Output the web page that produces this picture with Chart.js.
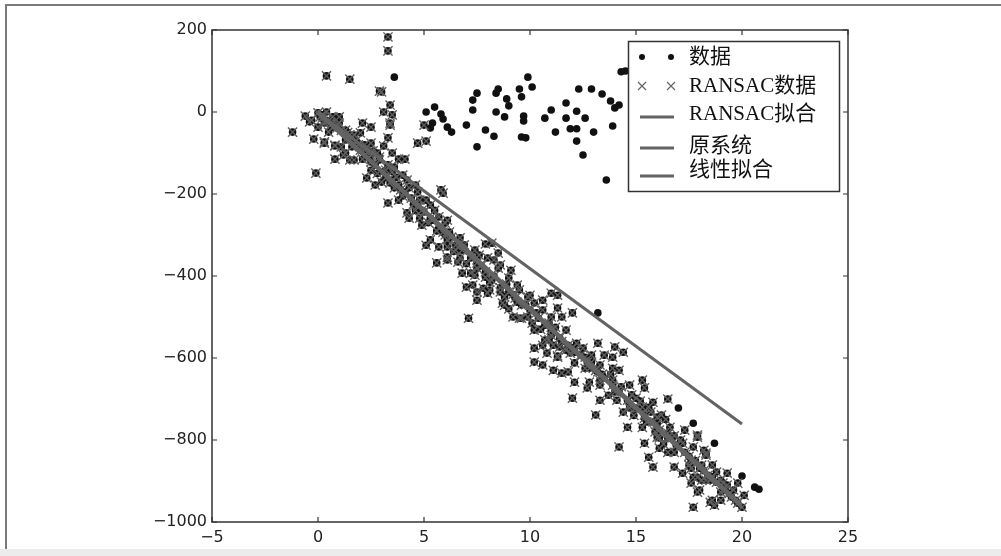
<!DOCTYPE html>
<html><head><meta charset="utf-8">
<script src="https://cdn.jsdelivr.net/npm/chart.js@4"></script>
<style>html,body{margin:0;padding:0;background:#fff;overflow:hidden}#wrap{width:1001px;height:556px;position:relative}</style>
</head><body><div id="wrap"><canvas id="c" width="1001" height="556"></canvas></div>
<script>
// ---- data ----
const inlierX = [
 0.4,-0.6,-0.4,0,-1.2,-0.2,0.3,-0.1,0,0.8,1.2,0.8,0.1,0.4,0.7,1.0,0.2,0.4,0.6,-0.3,0.5,0.9,
 1.5,2.9,3.3,3.3,3.0,3.4,3.1,3.5,3.4,
 0.3,0.7,1.0,2.1,2.5,2.0,1.7,3.4,5.0,4.7,5.1,3.3,3.1,2.5,0.3,0.8,1.1,1.3,1.5,1.7,2.1,2.5,2.8,3.5,3.8,4.1,3.3,2.5,2.3,3.0,3.4,3.7,2.7,4.2,3.9,4.3,3.3,3.8,4.7,4.8,5.1,5.3,5.8,5.9,4.2,4.3,4.8,4.9,5.3,5.7,6.0,6.1,5.3,5.1,5.7,6.1,6.1,5.6,
 0.5,1.3,1.6,1.9,2.2,2.9,2.5,3.2,3.5,
 1.3,1.6,2.0,2.4,2.7,3.1,3.5,3.8,4.1,4.4,4.7,5.0,5.4,5.7,5.9,1.5,2.2,2.9,3.6,4.0,4.6,
 0.2,0.6,0.9,1.1,1.4,1.8,2.3,2.6,2.8,3.2,3.6,4.0,4.5,4.9,5.2,5.6,6.0,4.6,5.5,
 6.3,6.1,6.5,6.1,6.6,7.9,8.2,8.5,7.6,8.3,7.5,6.8,7.2,8.5,9.1,7.9,8.1,9.4,7.0,7.3,7.5,8.0,8.6,8.8,7.5,8.7,9.4,9.9,10.2,10.6,11.0,11.3,10.6,11.3,9.2,9.6,9.9,10.1,11.0,11.5,12.0,11.2,11.7,7.1,10.7,10.6,11.1,11.4,10.2,10.8,11.3,11.9,10.2,10.6,11.1,11.5,11.8,
 6.2,6.7,6.9,7.4,8.0,8.6,9.0,9.5,10.0,
 6.5,6.8,7.2,7.5,7.9,8.2,8.6,9.0,9.3,9.6,10.0,10.4,10.7,11.0,11.4,11.8,12.1,6.7,7.4,8.1,8.8,9.5,10.2,10.9,11.7,
 6.4,7.0,7.7,8.3,8.9,9.2,9.8,10.3,10.5,11.0,11.5,12.0,7.8,9.0,10.9,11.3,
 12.2,13.2,14.0,14.4,13.9,13.5,12.6,12.9,12.1,13.3,13.9,14.2,13.2,12.1,12.8,13.3,12.7,13.9,14.7,15.3,15.4,13.7,14.1,13.3,12.0,15.0,15.8,16.5,15.3,15.7,14.4,14.7,13.1,16.0,16.2,15.3,14.6,15.5,16.6,17.3,16.0,16.5,16.7,17.9,15.4,16.1,16.5,14.2,17.2,17.7,15.6,15.8,16.8,17.2,17.6,17.9,17.6,17.9,
 12.1,12.5,12.8,
 12.4,12.7,13.1,13.5,13.9,14.2,14.6,15.0,15.4,15.8,16.1,16.5,16.9,17.3,17.6,18.0,18.4,18.8,19.2,19.5,19.8,12.6,13.3,14.0,14.7,15.4,16.1,16.8,17.5,18.3,19.0,19.7,
 12.9,13.4,13.8,14.3,14.8,15.2,15.6,16.0,16.4,16.8,17.1,17.5,17.8,18.2,18.6,19.1,19.4,14.9,15.9,16.3,
 17.9,18.2,18.3,17.7,18.1,18.6,18.8,19.3,17.7,18.1,18.5,19.0,19.3,19.8,19.6,20.1,18.0,18.6,19.0,20.0,17.7,18.3,18.5,18.7
];
const inlierY = [
 88,-10,-24,-37,-49,-66,-73,-149,-2,-115,-105,-83,-12,0,-12,-12,-7,-20,-32,-20,-49,-39,
 80,51,183,149,49,17,0,-7,-27,
 -27,-37,-27,-27,-37,-51,-56,-32,-32,-76,-71,-63,-83,-76,-76,-81,-85,-100,-117,-117,-115,-105,-100,-100,-115,-115,-129,-142,-161,-171,-173,-159,-178,-166,-190,-185,-222,-215,-195,-215,-215,-227,-190,-198,-246,-259,-259,-276,-259,-256,-271,-264,-312,-325,-329,-312,-354,-368,
 -22,-44,-63,-80,-93,-117,-122,-142,-146,
 -68,-85,-93,-112,-129,-146,-166,-178,-195,-210,-229,-244,-264,-283,-293,-56,-80,-110,-134,-154,-178,
 -15,-25,-30,-45,-50,-70,-85,-95,-150,-160,-185,-205,-225,-240,-270,-290,-300,-240,-240,
 -305,-329,-337,-361,-366,-322,-320,-344,-349,-361,-368,-393,-393,-381,-386,-403,-415,-422,-427,-422,-439,-442,-439,-451,-459,-466,-464,-451,-466,-459,-442,-447,-483,-478,-500,-503,-500,-515,-500,-500,-490,-525,-532,-503,-556,-569,-569,-573,-576,-588,-598,-588,-610,-617,-630,-637,-634,
 -293,-307,-324,-337,-356,-373,-405,-434,-447,
 -325,-337,-356,-381,-390,-410,-429,-439,-454,-471,-483,-503,-520,-532,-551,-569,-586,-356,-398,-434,-471,-503,-532,-556,-581,
 -340,-370,-375,-400,-420,-445,-470,-490,-530,-545,-560,-575,-430,-480,-515,-595,
 -564,-564,-573,-586,-598,-593,-598,-593,-612,-617,-625,-630,-634,-659,-659,-666,-673,-654,-666,-654,-673,-691,-703,-703,-698,-698,-708,-700,-720,-732,-732,-722,-739,-744,-739,-769,-769,-756,-769,-776,-793,-783,-795,-793,-808,-820,-830,-817,-808,-817,-842,-866,-866,-881,-869,-891,-905,-927,
 -581,-576,-625,
 -593,-610,-630,-649,-666,-683,-703,-722,-739,-756,-776,-795,-813,-830,-849,-869,-886,-903,-922,-939,-954,-625,-654,-683,-715,-747,-795,-830,-861,-898,-927,-947,
 -610,-640,-640,-670,-690,-705,-720,-760,-750,-790,-800,-840,-850,-875,-890,-905,-930,-740,-780,-810,
 -788,-825,-837,-854,-861,-861,-878,-881,-891,-898,-898,-898,-910,-905,-922,-935,-922,-947,-947,-964,-964,-832,-952,-959
];
const outlierX = [3.6,5.1,5.5,5.8,5.9,5.4,5.3,6.1,6.3,7.0,7.5,7.3,7.3,7.5,7.9,8.3,8.4,8.5,8.4,8.8,8.9,9.0,9.5,9.6,9.9,10.1,9.7,9.7,9.6,9.8,10.7,11.0,11.2,11.7,11.7,11.9,12.2,12.2,12.3,12.2,12.5,12.6,12.9,13.0,13.4,13.8,14.0,13.9,14.2,13.6,14.3,14.5,13.2,17.0,17.7,18.7,20.0,20.6,20.8];
const outlierY = [85,0,12,-5,-17,-27,-39,-37,-49,-32,-85,29,5,46,-44,-59,46,56,0,-12,32,15,56,37,85,61,-10,-22,-61,-63,-15,5,-49,22,-15,-41,-41,2,56,-71,-105,-15,56,-49,44,27,10,-34,17,-166,98,100,-490,-722,-759,-808,-888,-915,-920];
const fitX = [0, 20];
const ransacFitY = [2, -958];
const originalY = [-3, -965];
const linearFitY = [-3, -761];
const xTicks = [-5, 0, 5, 10, 15, 20, 25];
const yTicks = [-1000, -800, -600, -400, -200, 0, 200];
const seriesLabels = ['数据', 'RANSAC数据', 'RANSAC拟合', '原系统', '线性拟合'];

// ---- build ----
const pts = (xs, ys) => xs.map((x, i) => ({x: x, y: ys[i]}));
const allX = outlierX.concat(inlierX), allY = outlierY.concat(inlierY);
const LINE_C = '#636363';
const fmt = v => v < 0 ? '\u2212' + Math.abs(v) : String(v);

const pageFrame = {
  id: 'pageFrame',
  beforeDraw(chart) {
    const c = chart.ctx;
    c.save();
    c.fillStyle = '#fff'; c.fillRect(0, 0, 1001, 556);
    c.fillStyle = '#ececec'; c.fillRect(0, 549, 1001, 7);
    c.strokeStyle = '#7a7a7a'; c.lineWidth = 2;
    c.beginPath(); c.moveTo(6, 549); c.lineTo(6, 5); c.lineTo(1001, 5); c.stroke();
    c.restore();
  }
};

const axesFrame = {
  id: 'axesFrame',
  afterDatasetsDraw(chart) {
    const c = chart.ctx, a = chart.chartArea, sx = chart.scales.x, sy = chart.scales.y;
    c.save();
    c.strokeStyle = '#333'; c.lineWidth = 1.5;
    c.strokeRect(a.left, a.top, a.right - a.left, a.bottom - a.top);
    c.lineWidth = 1.2; c.beginPath();
    xTicks.forEach(v => { const p = sx.getPixelForValue(v);
      c.moveTo(p, a.bottom); c.lineTo(p, a.bottom - 5);
      c.moveTo(p, a.top); c.lineTo(p, a.top + 5); });
    yTicks.forEach(v => { const p = sy.getPixelForValue(v);
      c.moveTo(a.left, p); c.lineTo(a.left + 5, p);
      c.moveTo(a.right, p); c.lineTo(a.right - 5, p); });
    c.stroke();
    c.restore();
  }
};

const legendBox = {
  id: 'legendBox',
  afterDraw(chart) {
    const c = chart.ctx, ds = chart.data.datasets;
    c.save();
    c.fillStyle = '#fff'; c.fillRect(628, 41, 212, 151);
    c.strokeStyle = '#333'; c.lineWidth = 1.5; c.strokeRect(628.5, 41.5, 211, 150);
    const textY = [57, 86, 114, 146, 170];
    const symY = [57, 86, 117, 148, 176];
    c.font = '21px "Liberation Serif", "Noto Sans CJK SC", serif';
    c.textBaseline = 'middle';
    ds.forEach((d, i) => {
      const y = symY[i];
      if (i === 0) {
        c.fillStyle = '#111';
        [642, 671].forEach(x => { c.beginPath(); c.arc(x, y, 3, 0, Math.PI * 2); c.fill(); });
      } else if (i === 1) {
        c.strokeStyle = '#666'; c.lineWidth = 1.2; c.beginPath();
        [642, 671].forEach(x => { c.moveTo(x - 4, y - 4); c.lineTo(x + 4, y + 4); c.moveTo(x - 4, y + 4); c.lineTo(x + 4, y - 4); });
        c.stroke();
      } else {
        c.strokeStyle = d.borderColor; c.lineWidth = 3; c.beginPath();
        c.moveTo(640, y); c.lineTo(674, y); c.stroke();
      }
      c.fillStyle = '#111';
      c.fillText(d.label, 689, textY[i]);
    });
    c.restore();
  }
};

const tickFont = {family: '"DejaVu Sans", sans-serif', size: 16};
new Chart(document.getElementById('c'), {
  type: 'scatter',
  data: {
    datasets: [
      {label: seriesLabels[0], data: pts(allX, allY), pointStyle: 'circle', pointRadius: 3.8,
       backgroundColor: '#111111', borderWidth: 0, order: 5},
      {label: seriesLabels[1], data: pts(inlierX, inlierY), pointStyle: 'crossRot', pointRadius: 6.5,
       borderColor: '#5e5e5e', borderWidth: 1.4, backgroundColor: 'transparent', order: 4},
      {label: seriesLabels[2], type: 'line', data: pts(fitX, ransacFitY), borderColor: LINE_C,
       borderWidth: 3, pointRadius: 0, showLine: true, fill: false, order: 3},
      {label: seriesLabels[3], type: 'line', data: pts(fitX, originalY), borderColor: LINE_C,
       borderWidth: 3, pointRadius: 0, showLine: true, fill: false, order: 2},
      {label: seriesLabels[4], type: 'line', data: pts(fitX, linearFitY), borderColor: LINE_C,
       borderWidth: 3, pointRadius: 0, showLine: true, fill: false, order: 1}
    ]
  },
  options: {
    responsive: false, devicePixelRatio: 1, animation: false,
    layout: {padding: {left: 0, right: 153, top: 30, bottom: 0}},
    plugins: {legend: {display: false}, tooltip: {enabled: false}},
    scales: {
      x: {type: 'linear', min: -5, max: 25,
          afterBuildTicks: s => { s.ticks = xTicks.map(v => ({value: v})); },
          afterFit: s => { s.height = 34; },
          grid: {display: false, drawTicks: false}, border: {display: false},
          ticks: {font: tickFont, color: '#222', padding: 6, maxRotation: 0, callback: v => fmt(v)}},
      y: {type: 'linear', min: -1000, max: 200,
          afterBuildTicks: s => { s.ticks = yTicks.map(v => ({value: v})); },
          afterFit: s => { s.width = 212; },
          grid: {display: false, drawTicks: false}, border: {display: false},
          ticks: {font: tickFont, color: '#222', padding: 5, callback: v => fmt(v)}}
    }
  },
  plugins: [pageFrame, axesFrame, legendBox]
});
</script></body></html>
